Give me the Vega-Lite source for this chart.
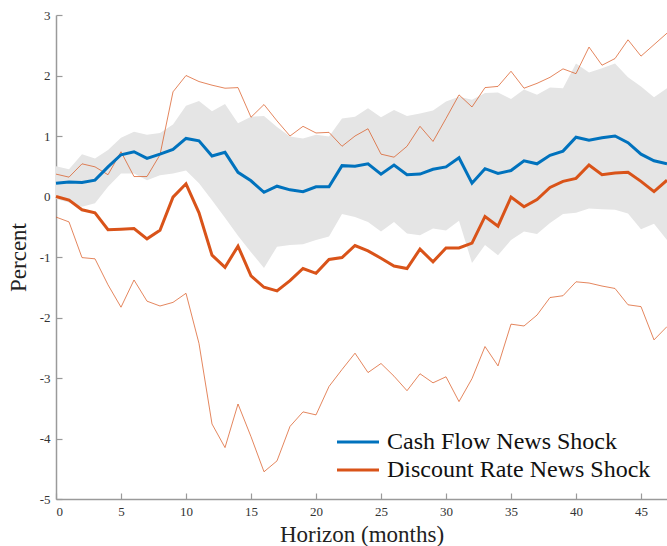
{
  "$schema": "https://vega.github.io/schema/vega-lite/v6.json",
  "width": 611,
  "height": 484,
  "autosize": {"type": "none"},
  "padding": {"left": 56, "top": 15, "right": 0, "bottom": 47},
  "background": "white",
  "config": {
    "view": {"stroke": null},
    "font": "Liberation Serif",
    "axis": {
      "grid": false,
      "domainColor": "#9a9a9a",
      "domainWidth": 1.5,
      "tickColor": "#9a9a9a",
      "tickWidth": 1.2,
      "tickSize": -6,
      "labelFont": "Liberation Serif",
      "labelFontSize": 13,
      "labelColor": "#333333",
      "titleFont": "Liberation Serif",
      "titleFontSize": 23,
      "titleFontWeight": "normal",
      "titleColor": "#222222"
    }
  },
  "data": {
    "values": [
      {"h": 0, "cf": 0.22, "cf_lo": -0.04, "cf_hi": 0.50, "dr": 0.00, "dr_lo": -0.34, "dr_hi": 0.37},
      {"h": 1, "cf": 0.24, "cf_lo": -0.10, "cf_hi": 0.45, "dr": -0.06, "dr_lo": -0.42, "dr_hi": 0.32},
      {"h": 2, "cf": 0.23, "cf_lo": -0.17, "cf_hi": 0.70, "dr": -0.22, "dr_lo": -1.01, "dr_hi": 0.54},
      {"h": 3, "cf": 0.27, "cf_lo": -0.11, "cf_hi": 0.63, "dr": -0.27, "dr_lo": -1.03, "dr_hi": 0.49},
      {"h": 4, "cf": 0.49, "cf_lo": 0.16, "cf_hi": 0.77, "dr": -0.55, "dr_lo": -1.46, "dr_hi": 0.36},
      {"h": 5, "cf": 0.69, "cf_lo": 0.38, "cf_hi": 0.97, "dr": -0.54, "dr_lo": -1.83, "dr_hi": 0.74},
      {"h": 6, "cf": 0.74, "cf_lo": 0.38, "cf_hi": 1.07, "dr": -0.53, "dr_lo": -1.38, "dr_hi": 0.33},
      {"h": 7, "cf": 0.63, "cf_lo": 0.27, "cf_hi": 1.02, "dr": -0.70, "dr_lo": -1.73, "dr_hi": 0.33},
      {"h": 8, "cf": 0.70, "cf_lo": 0.35, "cf_hi": 1.05, "dr": -0.56, "dr_lo": -1.81, "dr_hi": 0.69},
      {"h": 9, "cf": 0.78, "cf_lo": 0.38, "cf_hi": 1.19, "dr": -0.01, "dr_lo": -1.75, "dr_hi": 1.73},
      {"h": 10, "cf": 0.96, "cf_lo": 0.43, "cf_hi": 1.50, "dr": 0.21, "dr_lo": -1.60, "dr_hi": 2.00},
      {"h": 11, "cf": 0.92, "cf_lo": 0.22, "cf_hi": 1.58, "dr": -0.27, "dr_lo": -2.43, "dr_hi": 1.90},
      {"h": 12, "cf": 0.67, "cf_lo": -0.06, "cf_hi": 1.41, "dr": -0.97, "dr_lo": -3.76, "dr_hi": 1.84},
      {"h": 13, "cf": 0.73, "cf_lo": -0.35, "cf_hi": 1.53, "dr": -1.17, "dr_lo": -4.15, "dr_hi": 1.79},
      {"h": 14, "cf": 0.40, "cf_lo": -0.65, "cf_hi": 1.21, "dr": -0.82, "dr_lo": -3.43, "dr_hi": 1.80},
      {"h": 15, "cf": 0.26, "cf_lo": -0.92, "cf_hi": 1.32, "dr": -1.31, "dr_lo": -3.97, "dr_hi": 1.31},
      {"h": 16, "cf": 0.07, "cf_lo": -1.18, "cf_hi": 1.33, "dr": -1.50, "dr_lo": -4.55, "dr_hi": 1.52},
      {"h": 17, "cf": 0.17, "cf_lo": -0.83, "cf_hi": 1.15, "dr": -1.56, "dr_lo": -4.37, "dr_hi": 1.25},
      {"h": 18, "cf": 0.11, "cf_lo": -0.80, "cf_hi": 0.99, "dr": -1.39, "dr_lo": -3.80, "dr_hi": 1.00},
      {"h": 19, "cf": 0.08, "cf_lo": -0.79, "cf_hi": 0.96, "dr": -1.19, "dr_lo": -3.56, "dr_hi": 1.16},
      {"h": 20, "cf": 0.16, "cf_lo": -0.72, "cf_hi": 1.02, "dr": -1.27, "dr_lo": -3.61, "dr_hi": 1.05},
      {"h": 21, "cf": 0.16, "cf_lo": -0.66, "cf_hi": 0.99, "dr": -1.04, "dr_lo": -3.14, "dr_hi": 1.06},
      {"h": 22, "cf": 0.51, "cf_lo": -0.29, "cf_hi": 1.29, "dr": -1.01, "dr_lo": -2.86, "dr_hi": 0.83},
      {"h": 23, "cf": 0.50, "cf_lo": -0.34, "cf_hi": 1.32, "dr": -0.81, "dr_lo": -2.59, "dr_hi": 1.00},
      {"h": 24, "cf": 0.54, "cf_lo": -0.42, "cf_hi": 1.46, "dr": -0.90, "dr_lo": -2.91, "dr_hi": 1.12},
      {"h": 25, "cf": 0.37, "cf_lo": -0.58, "cf_hi": 1.31, "dr": -1.02, "dr_lo": -2.76, "dr_hi": 0.70},
      {"h": 26, "cf": 0.52, "cf_lo": -0.42, "cf_hi": 1.43, "dr": -1.15, "dr_lo": -2.97, "dr_hi": 0.65},
      {"h": 27, "cf": 0.36, "cf_lo": -0.61, "cf_hi": 1.33, "dr": -1.19, "dr_lo": -3.21, "dr_hi": 0.83},
      {"h": 28, "cf": 0.37, "cf_lo": -0.64, "cf_hi": 1.37, "dr": -0.87, "dr_lo": -2.93, "dr_hi": 1.16},
      {"h": 29, "cf": 0.45, "cf_lo": -0.53, "cf_hi": 1.42, "dr": -1.08, "dr_lo": -3.08, "dr_hi": 0.91},
      {"h": 30, "cf": 0.49, "cf_lo": -0.56, "cf_hi": 1.57, "dr": -0.85, "dr_lo": -2.98, "dr_hi": 1.29},
      {"h": 31, "cf": 0.64, "cf_lo": -0.40, "cf_hi": 1.65, "dr": -0.85, "dr_lo": -3.39, "dr_hi": 1.68},
      {"h": 32, "cf": 0.22, "cf_lo": -1.10, "cf_hi": 1.60, "dr": -0.77, "dr_lo": -3.01, "dr_hi": 1.48},
      {"h": 33, "cf": 0.46, "cf_lo": -0.80, "cf_hi": 1.71, "dr": -0.33, "dr_lo": -2.48, "dr_hi": 1.80},
      {"h": 34, "cf": 0.38, "cf_lo": -0.97, "cf_hi": 1.72, "dr": -0.49, "dr_lo": -2.80, "dr_hi": 1.82},
      {"h": 35, "cf": 0.43, "cf_lo": -0.72, "cf_hi": 1.61, "dr": -0.01, "dr_lo": -2.11, "dr_hi": 2.07},
      {"h": 36, "cf": 0.59, "cf_lo": -0.58, "cf_hi": 1.77, "dr": -0.17, "dr_lo": -2.14, "dr_hi": 1.79},
      {"h": 37, "cf": 0.54, "cf_lo": -0.62, "cf_hi": 1.68, "dr": -0.05, "dr_lo": -1.96, "dr_hi": 1.87},
      {"h": 38, "cf": 0.68, "cf_lo": -0.44, "cf_hi": 1.80, "dr": 0.15, "dr_lo": -1.67, "dr_hi": 1.97},
      {"h": 39, "cf": 0.75, "cf_lo": -0.29, "cf_hi": 1.79, "dr": 0.25, "dr_lo": -1.64, "dr_hi": 2.11},
      {"h": 40, "cf": 0.98, "cf_lo": -0.27, "cf_hi": 2.20, "dr": 0.30, "dr_lo": -1.41, "dr_hi": 2.03},
      {"h": 41, "cf": 0.93, "cf_lo": -0.20, "cf_hi": 2.05, "dr": 0.52, "dr_lo": -1.43, "dr_hi": 2.47},
      {"h": 42, "cf": 0.97, "cf_lo": -0.21, "cf_hi": 2.12, "dr": 0.36, "dr_lo": -1.48, "dr_hi": 2.17},
      {"h": 43, "cf": 1.00, "cf_lo": -0.22, "cf_hi": 2.20, "dr": 0.39, "dr_lo": -1.52, "dr_hi": 2.28},
      {"h": 44, "cf": 0.89, "cf_lo": -0.28, "cf_hi": 1.97, "dr": 0.40, "dr_lo": -1.79, "dr_hi": 2.59},
      {"h": 45, "cf": 0.70, "cf_lo": -0.54, "cf_hi": 1.82, "dr": 0.25, "dr_lo": -1.82, "dr_hi": 2.32},
      {"h": 46, "cf": 0.59, "cf_lo": -0.45, "cf_hi": 1.64, "dr": 0.08, "dr_lo": -2.37, "dr_hi": 2.51},
      {"h": 47, "cf": 0.54, "cf_lo": -0.72, "cf_hi": 1.79, "dr": 0.27, "dr_lo": -2.15, "dr_hi": 2.70}
    ]
  },
  "encoding": {
    "x": {
      "field": "h",
      "type": "quantitative",
      "scale": {"domain": [0, 47], "nice": false, "zero": false},
      "axis": {
        "values": [0, 5, 10, 15, 20, 25, 30, 35, 40, 45],
        "labelPadding": 12,
        "title": "Horizon (months)",
        "titleX": 305.5,
        "titleY": 35,
        "titleBaseline": "middle",
        "titleAlign": "center"
      }
    }
  },
  "layer": [
    {
      "mark": {"type": "area", "color": "#e5e5e5", "opacity": 1},
      "encoding": {
        "y": {
          "field": "cf_lo",
          "type": "quantitative",
          "scale": {"domain": [-5, 3], "nice": false},
          "axis": {
            "values": [-5, -4, -3, -2, -1, 0, 1, 2, 3],
            "labelExpr": "'' + datum.value",
            "labelPadding": 12,
            "title": "Percent",
            "titleX": -38,
            "titleY": 242,
            "titleAngle": -90,
            "titleBaseline": "middle",
            "titleAlign": "center"
          }
        },
        "y2": {"field": "cf_hi"}
      }
    },
    {
      "mark": {"type": "rule", "color": "#a8a8a8", "strokeWidth": 2},
      "encoding": {"y": {"datum": 0}}
    },
    {
      "mark": {"type": "line", "color": "#D95319", "strokeWidth": 1, "opacity": 0.7},
      "encoding": {"y": {"field": "dr_hi", "type": "quantitative"}}
    },
    {
      "mark": {"type": "line", "color": "#D95319", "strokeWidth": 1, "opacity": 0.7},
      "encoding": {"y": {"field": "dr_lo", "type": "quantitative"}}
    },
    {
      "transform": [{"fold": ["cf", "dr"], "as": ["series", "value"]}],
      "mark": {"type": "line", "strokeWidth": 3},
      "encoding": {
        "y": {"field": "value", "type": "quantitative"},
        "color": {
          "field": "series",
          "type": "nominal",
          "scale": {"domain": ["cf", "dr"], "range": ["#0072BD", "#D95319"]},
          "legend": {
            "title": null,
            "orient": "none",
            "legendX": 290,
            "legendY": 415,
            "padding": 0,
            "symbolType": "M-2,0H2",
            "symbolSize": 441,
            "symbolStrokeWidth": 3,
            "symbolFillColor": "transparent",
            "labelOffset": 17,
            "labelFont": "Liberation Serif",
            "labelFontSize": 24,
            "labelColor": "#111111",
            "labelLimit": 400,
            "rowPadding": 4,
            "labelExpr": "datum.value == 'cf' ? 'Cash Flow News Shock' : 'Discount Rate News Shock'"
          }
        }
      }
    }
  ]
}
